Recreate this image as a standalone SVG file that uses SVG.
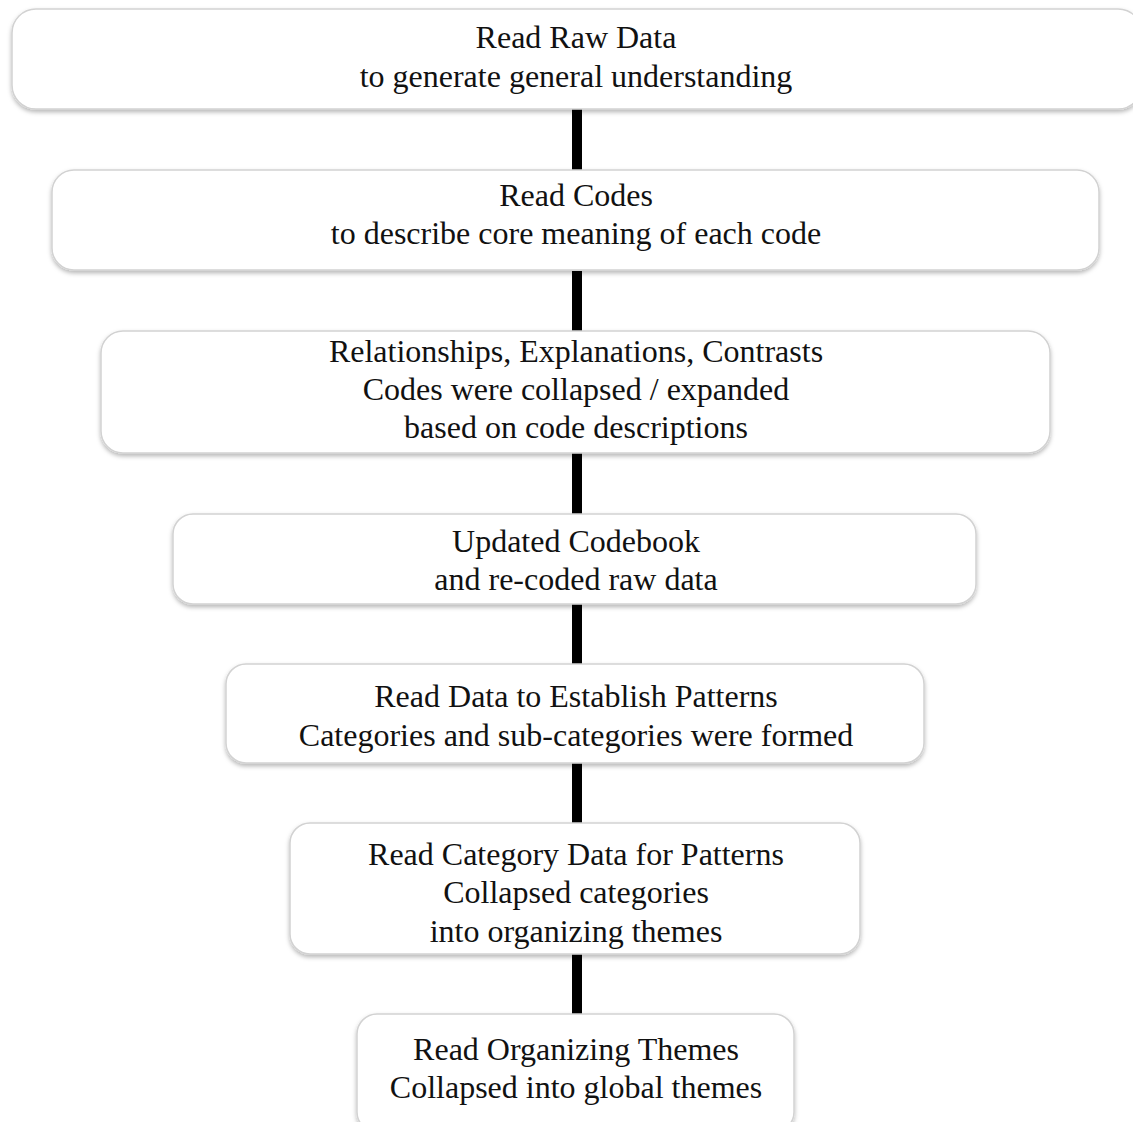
<svg xmlns="http://www.w3.org/2000/svg" width="1133" height="1122" viewBox="0 0 1133 1122">
  <defs>
    <filter id="shadow" x="-5%" y="-20%" width="110%" height="150%">
      <feDropShadow dx="0" dy="2.5" stdDeviation="2" flood-color="#000" flood-opacity="0.28"/>
    </filter>
  </defs>
  <style>
    .box { fill: #ffffff; stroke: #d2d2d2; stroke-width: 1.5; filter: url(#shadow); }
    .label { font-family: "Liberation Serif", "Times New Roman", serif; font-size: 32px; fill: #111111; text-anchor: middle; }
    .link { stroke: #000000; stroke-width: 10; fill: none; }
  </style>

  <!-- vertical links between successive steps -->
  <g id="connectors">
    <line class="link" x1="577" y1="109" x2="577" y2="171"/>
    <line class="link" x1="577" y1="271" x2="577" y2="332"/>
    <line class="link" x1="577" y1="453" x2="577" y2="515"/>
    <line class="link" x1="577" y1="604" x2="577" y2="665"/>
    <line class="link" x1="577" y1="763" x2="577" y2="824"/>
    <line class="link" x1="577" y1="954" x2="577" y2="1015"/>
  </g>

  <g id="step1">
    <rect class="box" x="12" y="9" width="1130" height="100" rx="24"/>
    <text class="label" x="576" y="48">Read Raw Data</text>
    <text class="label" x="576" y="87">to generate general understanding</text>
  </g>

  <g id="step2">
    <rect class="box" x="52" y="170" width="1047" height="100" rx="22"/>
    <text class="label" x="576" y="206">Read Codes</text>
    <text class="label" x="576" y="244">to describe core meaning of each code</text>
  </g>

  <g id="step3">
    <rect class="box" x="101" y="331" width="949" height="122" rx="22"/>
    <text class="label" x="576" y="362">Relationships, Explanations, Contrasts</text>
    <text class="label" x="576" y="400">Codes were collapsed / expanded</text>
    <text class="label" x="576" y="438">based on code descriptions</text>
  </g>

  <g id="step4">
    <rect class="box" x="173" y="514" width="803" height="90" rx="20"/>
    <text class="label" x="576" y="552">Updated Codebook</text>
    <text class="label" x="576" y="590">and re-coded raw data</text>
  </g>

  <g id="step5">
    <rect class="box" x="226" y="664" width="698" height="99" rx="20"/>
    <text class="label" x="576" y="707">Read Data to Establish Patterns</text>
    <text class="label" x="576" y="746">Categories and sub-categories were formed</text>
  </g>

  <g id="step6">
    <rect class="box" x="290" y="823" width="570" height="131" rx="20"/>
    <text class="label" x="576" y="865">Read Category Data for Patterns</text>
    <text class="label" x="576" y="903">Collapsed categories</text>
    <text class="label" x="576" y="942">into organizing themes</text>
  </g>

  <g id="step7">
    <rect class="box" x="357" y="1014" width="437" height="118" rx="20"/>
    <text class="label" x="576" y="1060">Read Organizing Themes</text>
    <text class="label" x="576" y="1098">Collapsed into global themes</text>
  </g>
</svg>
